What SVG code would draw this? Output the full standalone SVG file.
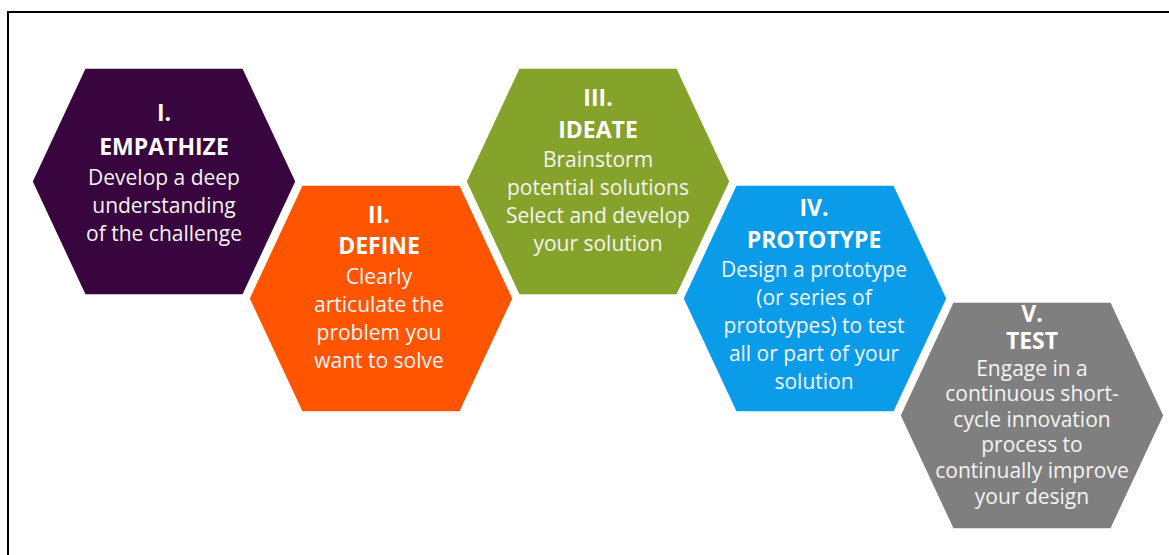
<svg xmlns="http://www.w3.org/2000/svg" width="1169" height="555" viewBox="0 0 1169 555">
<style>
.hex{stroke:#ffffff;stroke-width:1.5}
.t{font-family:"Open Sans","Noto Sans","Liberation Sans",sans-serif;fill:#ffffff;text-anchor:middle}
.h{font-weight:bold;font-size:23px}
.d{font-size:21px;fill:#f4f4f4}
</style>
<defs>
<polygon id="hx" points="0,113.5 53,0 211,0 264,113.5 211,227 53,227"/>
</defs>
<rect x="0" y="0" width="1169" height="555" fill="#ffffff"/>
<path d="M8,555 V12 H1169" fill="none" stroke="#000000" stroke-width="2"/>
<g id="empathize">
<use href="#hx" x="32" y="68" class="hex" fill="#38053f"/>
<text class="t h" x="164" y="121">I.</text>
<text class="t h" x="164" y="155">EMPATHIZE</text>
<text class="t d" x="164" y="185">Develop a deep</text>
<text class="t d" x="164" y="213">understanding</text>
<text class="t d" x="164" y="241">of the challenge</text>
</g>
<g id="define">
<use href="#hx" x="249" y="185" class="hex" fill="#ff5500"/>
<text class="t h" x="379" y="223">II.</text>
<text class="t h" x="379" y="254">DEFINE</text>
<text class="t d" x="379" y="284">Clearly</text>
<text class="t d" x="379" y="312">articulate the</text>
<text class="t d" x="379" y="340">problem you</text>
<text class="t d" x="379" y="368">want to solve</text>
</g>
<g id="ideate">
<use href="#hx" x="466" y="68" class="hex" fill="#85a22b"/>
<text class="t h" x="598" y="106">III.</text>
<text class="t h" x="598" y="138">IDEATE</text>
<text class="t d" x="598" y="167">Brainstorm</text>
<text class="t d" x="598" y="195">potential solutions</text>
<text class="t d" x="598" y="223">Select and develop</text>
<text class="t d" x="598" y="251">your solution</text>
</g>
<g id="prototype">
<use href="#hx" x="683" y="185" class="hex" fill="#0a9ce9"/>
<text class="t h" x="814" y="216">IV.</text>
<text class="t h" x="814" y="248">PROTOTYPE</text>
<text class="t d" x="814" y="277">Design a prototype</text>
<text class="t d" x="814" y="305">(or series of</text>
<text class="t d" x="814" y="333">prototypes) to test</text>
<text class="t d" x="814" y="361">all or part of your</text>
<text class="t d" x="814" y="389">solution</text>
</g>
<g id="test">
<use href="#hx" x="900" y="302" class="hex" fill="#7f7f7f"/>
<text class="t h" x="1032" y="322">V.</text>
<text class="t h" x="1032" y="349">TEST</text>
<text class="t d" x="1032" y="376">Engage in a</text>
<text class="t d" x="1032" y="401">continuous short-</text>
<text class="t d" x="1032" y="427">cycle innovation</text>
<text class="t d" x="1032" y="452">process to</text>
<text class="t d" x="1032" y="478">continually improve</text>
<text class="t d" x="1032" y="504">your design</text>
</g>
<g id="connectors"></g>
</svg>
